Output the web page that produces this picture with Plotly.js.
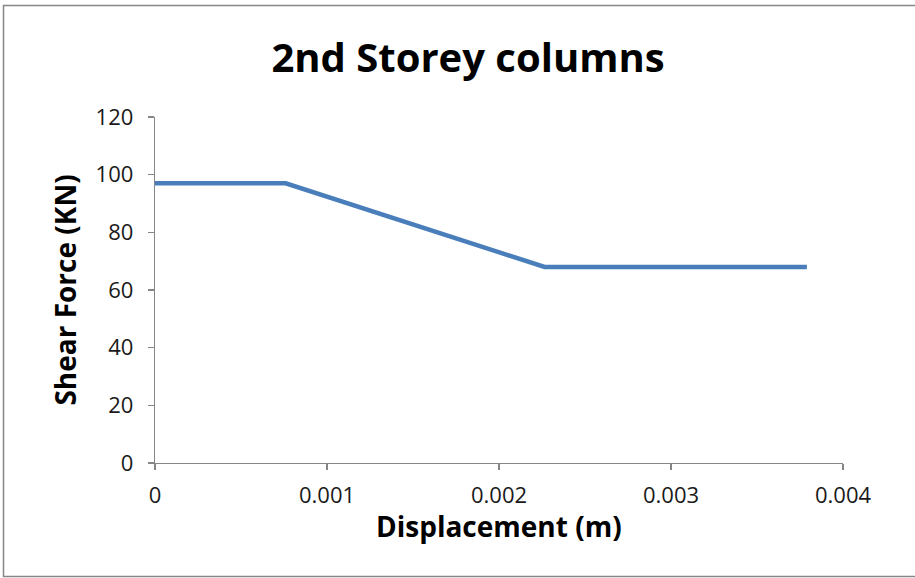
<!DOCTYPE html>
<html>
<head>
<meta charset="utf-8">
<script src="https://cdn.plot.ly/plotly-3.0.1.min.js"></script>
<style>
  html, body { margin: 0; padding: 0; background: #ffffff; }
  #chart { width: 915px; height: 578px; }
</style>
</head>
<body>
<div id="chart"></div>
<script>
// Shear force vs. displacement envelope for the 2nd storey columns
const displacement = [0, 0.00076, 0.002265, 0.00379];   // m
const shearForce   = [97, 97, 68, 68];                   // KN

const xTicks = [0, 0.001, 0.002, 0.003, 0.004];
const xTickLabels = ['0', '0.001', '0.002', '0.003', '0.004'];
const yTicks = [0, 20, 40, 60, 80, 100, 120];

const baseFont = 'Open Sans, Liberation Sans, sans-serif';

const trace = {
  x: displacement,
  y: shearForce,
  type: 'scatter',
  mode: 'lines',
  line: { color: '#4a7ebb', width: 4.5 },
  hoverinfo: 'skip'
};

const axisCommon = {
  showgrid: false,
  zeroline: false,
  showline: true,
  linecolor: '#868686',
  linewidth: 1.3,
  ticks: 'outside',
  ticklen: 6,
  tickcolor: '#868686',
  tickwidth: 1.3,
  tickfont: { family: baseFont, size: 22, color: '#1a1a1a' }
};

const layout = {
  width: 915,
  height: 578,
  paper_bgcolor: '#ffffff',
  plot_bgcolor: '#ffffff',
  margin: { l: 155, r: 72, t: 117, b: 115 },
  showlegend: false,
  title: {
    text: '<b>2nd Storey columns</b>',
    font: { family: baseFont, size: 40, color: '#000000' },
    x: 468 / 915, xanchor: 'center', xref: 'container',
    y: 1 - 58 / 578, yanchor: 'middle', yref: 'container'
  },
  xaxis: Object.assign({}, axisCommon, {
    range: [0, 0.004],
    tickvals: xTicks,
    ticktext: xTickLabels,
    ticklabelstandoff: 6
  }),
  yaxis: Object.assign({}, axisCommon, {
    range: [0, 120],
    tickvals: yTicks,
    ticklabelstandoff: 10,
    title: { text: '<b>Shear Force (KN)</b>', font: { family: baseFont, size: 28, color: '#000000' }, standoff: 10 }
  }),
  // x-axis title placed as an annotation below the tick labels
  annotations: [{
    text: '<b>Displacement (m)</b>',
    xref: 'paper', yref: 'paper',
    x: 0.5, y: -63 / 346,
    xanchor: 'center', yanchor: 'middle',
    showarrow: false,
    font: { family: baseFont, size: 28, color: '#000000' }
  }],
  shapes: [{
    type: 'rect', xref: 'paper', yref: 'paper',
    x0: -151.5 / 688, x1: 770 / 688,
    y0: -113.5 / 346, y1: 1 + 111.5 / 346,
    line: { color: '#868686', width: 1.5 },
    fillcolor: 'rgba(0,0,0,0)'
  }]
};

Plotly.newPlot('chart', [trace], layout, { displayModeBar: false, staticPlot: true });
</script>
</body>
</html>
